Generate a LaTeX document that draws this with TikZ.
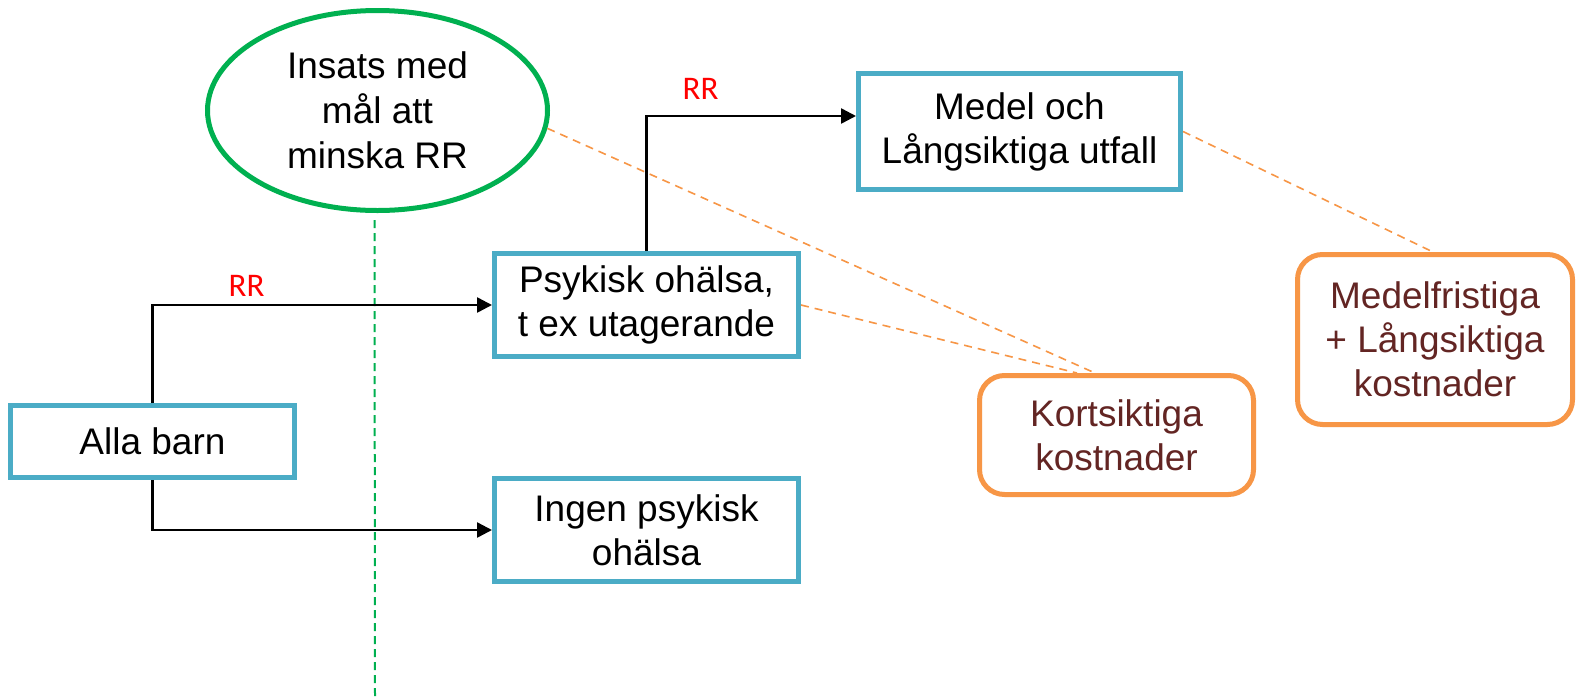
\documentclass[tikz,border=0pt]{standalone}
\usepackage{fontspec}
\setmainfont{Liberation Sans}
\newfontfamily\rrfont{Carlito}
\usetikzlibrary{shapes.geometric,arrows.meta,calc}
\definecolor{boxblue}{HTML}{4BACC6}
\definecolor{elgreen}{HTML}{00B050}
\definecolor{costorange}{HTML}{F79646}
\definecolor{costbrown}{RGB}{99,37,35}
\definecolor{rrred}{HTML}{FF0000}
\tikzset{
  bluebox/.style={draw=boxblue, line width=5pt, rectangle, align=center, inner sep=0pt,
    font=\fontsize{37}{44}\selectfont},
  costbox/.style={draw=costorange, line width=5pt, rectangle, rounded corners=25pt, align=center,
    inner sep=0pt, text=costbrown, font=\fontsize{37}{44}\selectfont},
  goalell/.style={draw=elgreen, line width=5pt, ellipse, align=center, inner sep=0pt,
    font=\fontsize{37}{45}\selectfont},
  flow/.style={draw=black, line width=2.5pt, -{Triangle[length=15pt,width=15pt]}},
  costlink/.style={draw=costorange, line width=1.6pt, dash pattern=on 8pt off 6pt},
  cutline/.style={draw=elgreen, line width=2pt, dash pattern=on 8pt off 5pt},
  rrlabel/.style={text=rrred, font=\rrfont\fontsize{33}{38}\selectfont, inner sep=0pt}
}
\begin{document}
\begin{tikzpicture}[x=1pt,y=-1pt]
\useasboundingbox (0,0) rectangle (1577,697);
\fill[white] (0,0) rectangle (1577,697);

\node[goalell, minimum width=340pt, minimum height=200pt] (ins) at (377.5,110.5) {Insats med\\mål att\\minska RR};
\node[bluebox, minimum width=284pt, minimum height=72pt] (alla) at (152.5,441.5) {Alla barn};
\node[bluebox, minimum width=304pt, minimum height=103pt] (psy) at (646.5,305) {Psykisk ohälsa,\\t ex utagerande};
\node[bluebox, minimum width=304pt, minimum height=103pt] (ingen) at (646.5,530) {Ingen psykisk\\ohälsa};
\node[bluebox, minimum width=322pt, minimum height=116pt] (medel) at (1019.5,131.5) {Medel och\\Långsiktiga utfall};
\node[costbox, minimum width=274pt, minimum height=119pt] (kort) at (1116.5,435) {Kortsiktiga\\kostnader};
\node[costbox, minimum width=275pt, minimum height=170pt] (medf) at (1435,339.5) {Medelfristiga\\+ Långsiktiga\\kostnader};

\node[rrlabel] (rr1) at (246.5,286) {RR};
\node[rrlabel] (rr2) at (700.5,89) {RR};

\coordinate (medin) at ($(medel.west)+(0,-15.5)$);
\coordinate (cuttop) at ($(ins.south)+(-3,7)$);
\coordinate (cutbot) at (375,697);

\draw[cutline] (cuttop) -- (cutbot);

\draw[costlink] (ins.-6) -- ($(kort.north west)+(118,0)$);
\draw[costlink] (psy.east) -- ($(kort.north west)+(100,0)$);
\draw[costlink] (medel.east) -- ($(medf.north west)+(138,0)$);

\draw[flow] (alla.north) |- (psy.west);
\draw[flow] (alla.south) |- (ingen.west);
\draw[flow] (psy.north) |- (medin);
\end{tikzpicture}
\end{document}
